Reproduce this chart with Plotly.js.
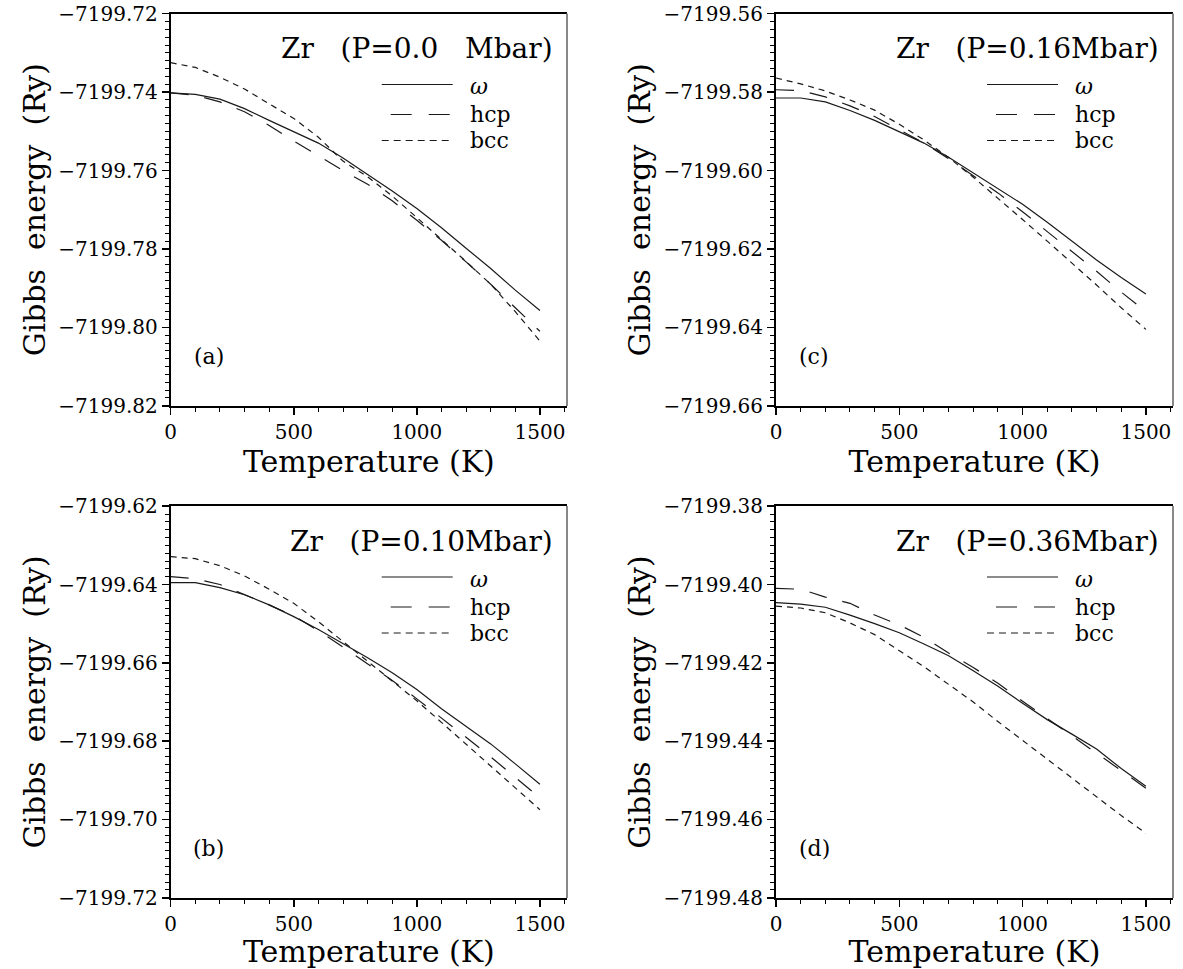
<!DOCTYPE html>
<html>
<head>
<meta charset="utf-8">
<script src="https://cdn.plot.ly/plotly-3.0.1.min.js"></script>
<style>html,body{margin:0;padding:0;background:#fff;}#chart{width:1183px;height:969px;}</style>
</head>
<body>
<div id="chart"></div>
<script>
// Temperature grid (K)
const temps = [0,100,200,300,400,500,600,700,800,900,1000,1100,1200,1300,1400,1500];

// (a) P = 0.0 Mbar
const omegaA = [-7199.7402,-7199.7406,-7199.7418,-7199.7442,-7199.7472,-7199.7500,-7199.7530,-7199.7568,-7199.7610,-7199.7652,-7199.7697,-7199.7746,-7199.7798,-7199.7850,-7199.7905,-7199.7957];
const hcpA   = [-7199.7402,-7199.7408,-7199.7425,-7199.7450,-7199.7485,-7199.7525,-7199.7562,-7199.7600,-7199.7635,-7199.7677,-7199.7727,-7199.7778,-7199.7833,-7199.7890,-7199.7950,-7199.8010];
const bccA   = [-7199.7325,-7199.7337,-7199.7362,-7199.7392,-7199.7430,-7199.7467,-7199.7515,-7199.7576,-7199.7616,-7199.7665,-7199.7720,-7199.7775,-7199.7832,-7199.7890,-7199.7960,-7199.8035];

// (c) P = 0.16 Mbar
const omegaC = [-7199.5815,-7199.5815,-7199.5825,-7199.5847,-7199.5872,-7199.5900,-7199.5930,-7199.5966,-7199.6006,-7199.6045,-7199.6086,-7199.6132,-7199.6180,-7199.6228,-7199.6273,-7199.6315];
const hcpC   = [-7199.5794,-7199.5796,-7199.5812,-7199.5835,-7199.5862,-7199.5895,-7199.5930,-7199.5970,-7199.6013,-7199.6057,-7199.6105,-7199.6155,-7199.6205,-7199.6257,-7199.6310,-7199.6360];
const bccC   = [-7199.5764,-7199.5779,-7199.5797,-7199.5820,-7199.5846,-7199.5882,-7199.5922,-7199.5967,-7199.6017,-7199.6070,-7199.6125,-7199.6180,-7199.6235,-7199.6292,-7199.6350,-7199.6405];

// (b) P = 0.10 Mbar
const omegaB = [-7199.6395,-7199.6395,-7199.6408,-7199.6426,-7199.6452,-7199.6482,-7199.6515,-7199.6550,-7199.6587,-7199.6625,-7199.6668,-7199.6717,-7199.6762,-7199.6807,-7199.6858,-7199.6910];
const hcpB   = [-7199.6380,-7199.6385,-7199.6400,-7199.6425,-7199.6452,-7199.6480,-7199.6518,-7199.6560,-7199.6602,-7199.6645,-7199.6692,-7199.6740,-7199.6790,-7199.6840,-7199.6893,-7199.6945];
const bccB   = [-7199.6329,-7199.6334,-7199.6352,-7199.6378,-7199.6412,-7199.6448,-7199.6495,-7199.6545,-7199.6595,-7199.6645,-7199.6697,-7199.6752,-7199.6808,-7199.6862,-7199.6918,-7199.6975];

// (d) P = 0.36 Mbar
const omegaD = [-7199.4046,-7199.4050,-7199.4058,-7199.4078,-7199.4100,-7199.4123,-7199.4152,-7199.4182,-7199.4220,-7199.4260,-7199.4303,-7199.4345,-7199.4382,-7199.4420,-7199.4470,-7199.4515];
const hcpD   = [-7199.4010,-7199.4012,-7199.4032,-7199.4048,-7199.4078,-7199.4103,-7199.4135,-7199.4175,-7199.4212,-7199.4252,-7199.4298,-7199.4342,-7199.4385,-7199.4430,-7199.4475,-7199.4520];
const bccD   = [-7199.4055,-7199.4060,-7199.4072,-7199.4098,-7199.4128,-7199.4168,-7199.4210,-7199.4255,-7199.4300,-7199.4350,-7199.4398,-7199.4445,-7199.4495,-7199.4542,-7199.4590,-7199.4635];

const phaseNames = ['<i>ω</i>', 'hcp', 'bcc'];
const panelTitles = ['Zr\u00a0\u00a0\u00a0(P=0.0\u00a0\u00a0\u00a0Mbar)', 'Zr\u00a0\u00a0\u00a0(P=0.16Mbar)', 'Zr\u00a0\u00a0\u00a0(P=0.10Mbar)', 'Zr\u00a0\u00a0\u00a0(P=0.36Mbar)'];
const panelLetters = ['(a)', '(c)', '(b)', '(d)'];
const yRanges = [[-7199.82, -7199.72], [-7199.66, -7199.56], [-7199.72, -7199.62], [-7199.48, -7199.38]];

const W = 1183, H = 969;
const FONT = 'DejaVu Serif, Liberation Serif, serif';
const px = v => v / W;
const py = v => 1 - v / H;

const panels = [
  {data: [omegaA, hcpA, bccA], ax: '', left: 170.7, right: 567, top: 13.5, bottom: 406},
  {data: [omegaC, hcpC, bccC], ax: '2', left: 776, right: 1173, top: 13.5, bottom: 406},
  {data: [omegaB, hcpB, bccB], ax: '3', left: 170.7, right: 567, top: 506, bottom: 898},
  {data: [omegaD, hcpD, bccD], ax: '4', left: 776, right: 1173, top: 506, bottom: 898}
];
const dashes = ['solid', '18px,16px', '6px,5px'];
const legendDashes = ['solid', '21px,17px', '7px,5px'];
const legendRowOffsets = [71, 101, 127];
const legendLineStart = [211, 220, 211];

const traces = [];
const layout = {
  width: W, height: H,
  margin: {l: 0, r: 0, t: 0, b: 0},
  paper_bgcolor: '#fff', plot_bgcolor: '#fff',
  font: {family: FONT, color: '#000', size: 20},
  showlegend: false,
  annotations: [], shapes: []
};

panels.forEach((p, i) => {
  p.data.forEach((ys, k) => {
    traces.push({
      x: temps, y: ys, type: 'scatter', mode: 'lines',
      name: phaseNames[k],
      xaxis: 'x' + p.ax, yaxis: 'y' + p.ax,
      line: {color: '#1a1a1a', width: 1.2, dash: dashes[k]}
    });
  });
  const xa = 'xaxis' + p.ax, ya = 'yaxis' + p.ax;
  const yr = yRanges[i];
  layout[xa] = {
    domain: [px(p.left), px(p.right)],
    anchor: 'y' + p.ax,
    range: [0, 1610],
    tickmode: 'linear', tick0: 0, dtick: 500,
    ticks: 'outside', ticklen: 7, tickwidth: 1.5, tickcolor: '#000',
    minor: {dtick: 100, ticks: 'outside', ticklen: 4, tickcolor: '#000', tickwidth: 1},
    showline: true, linecolor: '#000', linewidth: 2, mirror: true,
    showgrid: false, zeroline: false,
    tickfont: {family: FONT, size: 20, color: '#000'},
    title: {text: 'Temperature\u00a0(K)', font: {family: FONT, size: 30, color: '#000'}, standoff: 4}
  };
  layout[ya] = {
    domain: [py(p.bottom), py(p.top)],
    anchor: 'x' + p.ax,
    range: [yr[0] - 0.00005, yr[1] + 0.00005],
    tickmode: 'linear', tick0: yr[0], dtick: 0.02,
    tickformat: '.2f',
    ticks: 'outside', ticklen: 7, tickwidth: 1.5, tickcolor: '#000',
    minor: {dtick: 0.002, ticks: 'outside', ticklen: 4, tickcolor: '#000', tickwidth: 1},
    showline: true, linecolor: '#000', linewidth: 2, mirror: false,
    showgrid: false, zeroline: false,
    tickfont: {family: FONT, size: 20, color: '#000'},
    title: {text: 'Gibbs\u00a0\u00a0energy\u00a0\u00a0(Ry)', font: {family: FONT, size: 30, color: '#000'}, standoff: 4}
  };
  // right frame edge (lighter, as in the original)
  layout.shapes.push({type: 'line', xref: 'x' + p.ax + ' domain', yref: 'y' + p.ax + ' domain',
    x0: 1, x1: 1, y0: 0, y1: 1, line: {color: '#888', width: 2}});
  // legend (long line samples, as in the original)
  phaseNames.forEach((nm, k) => {
    const yy = py(p.top + legendRowOffsets[k]);
    layout.shapes.push({type: 'line', xref: 'paper', yref: 'paper',
      x0: px(p.left + legendLineStart[k]), x1: px(p.left + 282), y0: yy, y1: yy,
      line: {color: '#1a1a1a', width: 1.2, dash: legendDashes[k]}});
    layout.annotations.push({
      text: nm, xref: 'paper', yref: 'paper',
      x: px(p.left + 297), y: py(p.top + legendRowOffsets[k] + (k === 0 ? 2 : 0)),
      xanchor: 'left', yanchor: 'middle', showarrow: false,
      font: {family: FONT, size: 22, color: '#000'}
    });
  });
  // pressure title
  layout.annotations.push({
    text: panelTitles[i], xref: 'paper', yref: 'paper',
    x: px(p.right - 12), y: py(p.top + 35), xanchor: 'right', yanchor: 'middle',
    showarrow: false, font: {family: FONT, size: 28, color: '#000'}
  });
  // panel letter
  layout.annotations.push({
    text: panelLetters[i], xref: 'paper', yref: 'paper',
    x: px(p.left + 38), y: py(p.bottom - 50), xanchor: 'center', yanchor: 'middle',
    showarrow: false, font: {family: FONT, size: 22, color: '#000'}
  });
});

Plotly.newPlot('chart', traces, layout, {displayModeBar: false, staticPlot: true});
</script>
</body>
</html>
